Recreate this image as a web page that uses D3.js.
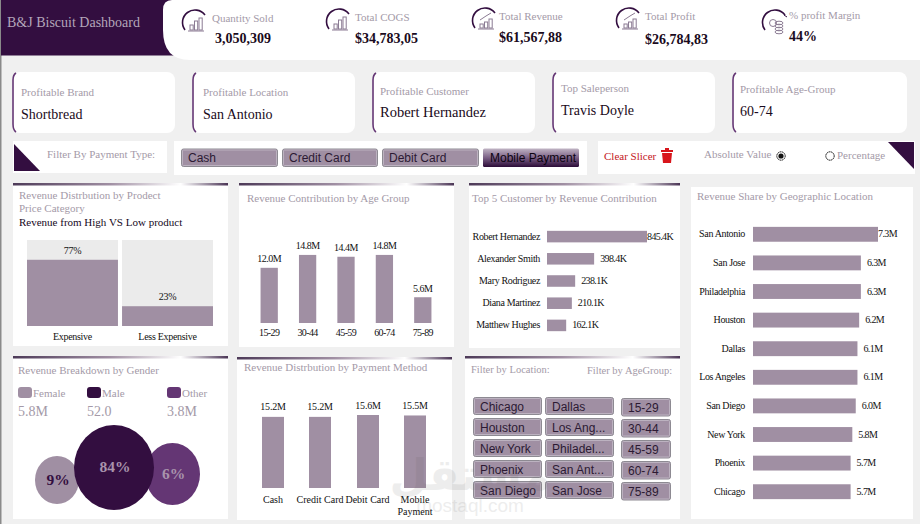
<!DOCTYPE html>
<html>
<head>
<meta charset="utf-8">
<title>B&amp;J Biscuit Dashboard</title>
<script src="https://cdn.jsdelivr.net/npm/d3@7"></script>
<style>
  html, body { margin: 0; padding: 0; background: #f0f0f0; overflow: hidden; }
  svg { display: block; }
  text { font-family: "Liberation Serif", serif; }
  .slicer { font-family: "Liberation Sans", sans-serif; }
</style>
</head>
<body>
<svg id="dash" width="920" height="524"></svg>
<script>
// Dashboard figures
const kpiLabels = ["Quantity Sold", "Total COGS", "Total Revenue", "Total Profit", "% profit Margin"];
const kpiValues = ["3,050,309", "$34,783,05", "$61,567,88", "$26,784,83", "44%"];
const highlightLabels = ["Profitable Brand", "Profitable Location", "Profitable Customer", "Top Saleperson", "Profitable Age-Group"];
const highlightValues = ["Shortbread", "San Antonio", "Robert Hernandez", "Travis Doyle", "60-74"];
const paymentTypes = ["Cash", "Credit Card", "Debit Card", "Mobile Payment"];
const priceCategories = ["Expensive", "Less Expensive"];
const priceShares = [77, 23];
const ageGroups = ["15-29", "30-44", "45-59", "60-74", "75-89"];
const ageRevenue = [12.0, 14.8, 14.4, 14.8, 5.6];
const customers = ["Robert Hernandez", "Alexander Smith", "Mary Rodriguez", "Diana Martinez", "Matthew Hughes"];
const customerRevenue = [845.4, 398.4, 238.1, 210.1, 162.1];
const cities = ["San Antonio", "San Jose", "Philadelphia", "Houston", "Dallas", "Los Angeles", "San Diego", "New York", "Phoenix", "Chicago"];
const cityRevenue = [7.3, 6.3, 6.3, 6.2, 6.1, 6.1, 6.0, 5.8, 5.7, 5.7];
const paymentRevenue = [15.2, 15.2, 15.6, 15.5];
const genders = ["Female", "Male", "Other"];
const genderTotals = ["5.8M", "52.0", "3.8M"];
const genderShares = [9, 84, 6];
const locationSlicer = ["Chicago", "Dallas", "Houston", "Los Ang...", "New York", "Philadel...", "Phoenix", "San Ant...", "San Diego", "San Jose"];

const DARK = "#330e40", MAUVE = "#a08fa3", PURPLE = "#643674", MUTED = "#a49aa8", INK = "#111";
const svg = d3.select("#dash");
const defs = svg.append("defs");
const ordinal = (domain, range) => d3.scaleOrdinal().domain(domain).range(range);

// Thin rule across the top of the panels: dark ends, fading to white near the right
const ruleGrad = defs.append("linearGradient").attr("id", "rule");
[[0, "#4d3a58"], [0.45, "#a08fa3"], [0.78, "#ffffff"], [1, "#4a3455"]].forEach(([o, c]) =>
  ruleGrad.append("stop").attr("offset", o).attr("stop-color", c));
const activeGrad = defs.append("linearGradient").attr("id", "activeBtn").attr("x2", 0).attr("y2", 1);
[[0, "#c0b4c4"], [0.5, "#7a5f85"], [1, "#2c0c38"]].forEach(([o, c]) =>
  activeGrad.append("stop").attr("offset", o).attr("stop-color", c));

function label(g, x, y, str, o = {}) {
  return g.append("text").attr("x", x).attr("y", y).text(str)
    .attr("font-size", o.size || 11)
    .attr("fill", o.fill || INK)
    .attr("text-anchor", o.anchor || "start")
    .attr("font-weight", o.weight || null)
    .attr("letter-spacing", o.ls || null);
}
function panel(x, y, w, h, rule = true) {
  svg.append("rect").attr("x", x).attr("y", y).attr("width", w).attr("height", h).attr("fill", "#fff");
  if (rule) svg.append("rect").attr("x", x).attr("y", y - 1).attr("width", w).attr("height", 2.5).attr("fill", "url(#rule)");
}

// Header band
svg.append("rect").attr("x", 0).attr("y", 0).attr("width", 1.5).attr("height", 524).attr("fill", "#8a8a8a");
svg.append("rect").attr("x", 1).attr("y", 0).attr("width", 190).attr("height", 55.5).attr("fill", DARK);
svg.append("path").attr("fill", "#fff")
  .attr("d", "M172,0H920V60H190Q163,60 163,30V10Q163,0 172,0Z");
label(svg, 7, 27, "B&J Biscuit Dashboard", { size: 14, fill: "#b3a6ba" });

// KPI strip
const kpiIconX = ordinal(kpiLabels, [196, 340, 486, 630, 776]);
const kpiIconY = [24, 23, 22, 22, 24];
const kpiLabelPos = [[212, 22], [355, 21], [499, 20], [645, 20], [789, 19]];
const kpiValuePos = [[215, 43], [355, 43], [499, 42], [645, 44], [789, 41]];
kpiLabels.forEach((k, i) => {
  const g = svg.append("g").attr("transform", `translate(${kpiIconX(k)},${kpiIconY[i]})`);
  // swoosh around each icon
  g.append("path").attr("fill", "none").attr("stroke", DARK).attr("stroke-width", 1.6)
    .attr("d", "M-11,6A12.5,12.5 0 0 1 9,-9");
  const bars = g.append("g").attr("fill", "none").attr("stroke", "#8b7b93").attr("stroke-width", 1);
  if (i === 4) {
    bars.append("circle").attr("cx", -3).attr("cy", -1).attr("r", 3.5);
    [1, 4, 7, 10].forEach(dy => bars.append("ellipse").attr("cx", 3).attr("cy", dy - 2).attr("rx", 4).attr("ry", 1.8));
    bars.append("path").attr("stroke", DARK).attr("d", "M8,-9l3,2");
  } else {
    const heights = i > 1 ? [4, 6, 9] : [5, 9, 12];
    heights.forEach((h, j) => bars.append("rect")
      .attr("x", -6 + j * 4.5).attr("y", 6 - h).attr("width", 3.2).attr("height", h));
    bars.append("path").attr("d", "M-8,7H8");
    if (i > 1) bars.append("path").attr("d", "M-6,-2L0,-6L5,-9");
  }
  label(svg, kpiLabelPos[i][0], kpiLabelPos[i][1], k, { size: 11, fill: MUTED });
  label(svg, kpiValuePos[i][0], kpiValuePos[i][1], kpiValues[i], { size: 14, weight: 700, fill: "#1a0a20" });
});

// Highlight cards
const cardX = [12, 192, 372, 552, 732];
const cardW = [163, 163, 163, 163, 175];
const cardLabelY = [96, 96, 95, 92, 93];
const cardValueY = [119, 119, 117, 115, 116];
highlightLabels.forEach((k, i) => {
  const x = cardX[i];
  const tx = x + 9 + (i === 1 ? 2 : 0) - (i === 2 ? 1 : 0) - (i === 4 ? 1 : 0);
  svg.append("rect").attr("x", x).attr("y", 72).attr("width", cardW[i]).attr("height", 61).attr("rx", 8).attr("fill", "#fff");
  svg.append("path").attr("fill", "none").attr("stroke", PURPLE).attr("stroke-width", 1.6)
    .attr("d", `M${x + 4},73Q${x + 1},75 ${x + 1},80V124Q${x + 1},130 ${x + 4},132`);
  label(svg, tx, cardLabelY[i], k, { size: 11, fill: MUTED });
  label(svg, tx, cardValueY[i], highlightValues[i], { size: i === 2 ? 14.5 : 14, fill: "#1a0a20" });
});

// Slicer buttons share one look; the selected one is dark with no frame
function slicerButton(x, y, w, h, str, active = false, size = 12) {
  if (active) {
    svg.append("rect").attr("x", x).attr("y", y).attr("width", w).attr("height", h).attr("rx", 1.5).attr("fill", "url(#activeBtn)");
  } else {
    svg.append("rect").attr("x", x + 0.5).attr("y", y + 0.5).attr("width", w - 1).attr("height", h - 1).attr("rx", 2)
      .attr("fill", MAUVE).attr("stroke", "#8d8a92").attr("stroke-width", 1);
    svg.append("rect").attr("x", x + 1.5).attr("y", y + 1.5).attr("width", w - 3).attr("height", h - 3).attr("rx", 1)
      .attr("fill", "none").attr("stroke", "#bcb2c0").attr("stroke-width", 1);
  }
  svg.append("text").attr("class", "slicer").attr("x", x + 7).attr("y", y + h / 2 + 4.5).text(str)
    .attr("font-size", size).attr("fill", active ? "#0c0410" : "#2c1a33");
}

// Filter row
panel(13, 141, 154, 32, false);
svg.append("path").attr("fill", DARK).attr("d", "M14,144L40,171H14Z");
label(svg, 47, 158, "Filter By Payment Type:", { size: 11, fill: MUTED });
panel(174, 141, 413, 34, false);
const payBtnX = ordinal(paymentTypes, [181, 282, 382, 483]);
const payBtnW = [97, 96, 97, 96];
paymentTypes.forEach((p, i) => slicerButton(payBtnX(p), 148.5, payBtnW[i], 18.5, p, i === 3));

panel(598, 141, 317, 33, false);
label(svg, 604, 160, "Clear Slicer", { size: 11, fill: "#c4161c" });
const trash = svg.append("g").attr("transform", "translate(667,156)").attr("fill", "#d8151b");
trash.append("path").attr("d", "M-5,-3H5L4,7H-4Z");
trash.append("rect").attr("x", -6).attr("y", -6).attr("width", 12).attr("height", 2);
trash.append("rect").attr("x", -2).attr("y", -8).attr("width", 4).attr("height", 2);
label(svg, 704, 158, "Absolute Value", { size: 11, fill: MUTED });
svg.append("circle").attr("cx", 781).attr("cy", 156).attr("r", 4.2).attr("fill", "#fff").attr("stroke", "#111").attr("stroke-dasharray", "1.5 0.5");
svg.append("circle").attr("cx", 781).attr("cy", 156).attr("r", 2.6).attr("fill", "#111");
svg.append("circle").attr("cx", 830).attr("cy", 156).attr("r", 4.2).attr("fill", "#fff").attr("stroke", "#111").attr("stroke-dasharray", "1.5 0.5");
label(svg, 837, 159, "Percentage", { size: 11, fill: MUTED });
svg.append("path").attr("fill", DARK).attr("d", "M888,142H914V169Z");

// Revenue by price category
panel(13, 184, 215, 162);
label(svg, 19, 199, "Revenue Distrbution by Prodect", { size: 11, fill: MUTED });
label(svg, 19, 212, "Price Category", { size: 11, fill: MUTED });
label(svg, 19, 226, "Revenue from High VS Low product", { size: 11, fill: "#16081c" });
const priceX = d3.scaleBand().domain(priceCategories).range([27, 213]).paddingInner(0.043).paddingOuter(0);
const priceY = d3.scaleLinear().domain([0, 100]).range([326, 240]);
priceCategories.forEach((c, i) => {
  svg.append("rect").attr("x", priceX(c)).attr("y", priceY(100)).attr("width", priceX.bandwidth()).attr("height", priceY(0) - priceY(100)).attr("fill", "#ebebeb");
  svg.append("rect").attr("x", priceX(c)).attr("y", priceY(priceShares[i])).attr("width", priceX.bandwidth()).attr("height", priceY(0) - priceY(priceShares[i])).attr("fill", MAUVE);
  label(svg, priceX(c) + priceX.bandwidth() / 2, priceY(priceShares[i]) - 6, priceShares[i] + "%", { size: 10, anchor: "middle", ls: -0.3 });
  label(svg, priceX(c) + priceX.bandwidth() / 2, 340, c, { size: 10, anchor: "middle", ls: -0.3 });
});

// Revenue by age group
panel(239, 184, 215, 163);
label(svg, 247, 202, "Revenue Contribution by Age Group", { size: 11, fill: MUTED });
const ageX = d3.scaleBand().domain(ageGroups).range([250, 442]).paddingInner(0.55).paddingOuter(0.275);
const ageY = d3.scaleLinear().domain([0, 15]).range([323, 254]);
svg.append("g").selectAll("rect").data(ageGroups).join("rect")
  .attr("x", d => ageX(d)).attr("width", ageX.bandwidth())
  .attr("y", (d, i) => ageY(ageRevenue[i])).attr("height", (d, i) => ageY(0) - ageY(ageRevenue[i]))
  .attr("fill", MAUVE);
ageGroups.forEach((a, i) => {
  const cx = ageX(a) + ageX.bandwidth() / 2;
  label(svg, cx, ageY(ageRevenue[i]) - 5.5, d3.format(".1f")(ageRevenue[i]) + "M", { size: 10, anchor: "middle", ls: -0.5 });
  label(svg, cx, 336, a, { size: 10, anchor: "middle", ls: -0.6 });
});

// Top customers
panel(469, 184, 211, 164);
label(svg, 472, 202, "Top 5 Customer by Revenue Contribution", { size: 11, fill: MUTED });
const custY = d3.scaleBand().domain(customers).range([225.5, 336.5]).paddingInner(0.48).paddingOuter(0.24);
const custX = d3.scaleLinear().domain([0, 845.4]).range([547, 647]);
customers.forEach((c, i) => {
  const y = custY(c), mid = y + custY.bandwidth() / 2;
  svg.append("rect").attr("x", custX(0)).attr("y", y).attr("width", custX(customerRevenue[i]) - custX(0)).attr("height", custY.bandwidth()).attr("fill", MAUVE);
  label(svg, 540, mid + 3, c, { size: 10, anchor: "end", ls: -0.35 });
  label(svg, custX(customerRevenue[i]) + (i === 0 ? 0 : 6), mid + 3, d3.format(".1f")(customerRevenue[i]) + "K", { size: 10, ls: -0.6 });
});

// Revenue by city
panel(691, 187, 222, 332, false);
label(svg, 697, 200, "Revenue Share by Geographic Location", { size: 11, fill: MUTED });
const cityY = d3.scaleBand().domain(cities).range([220, 506]).paddingInner(0.48).paddingOuter(0.24);
const cityX = d3.scaleLinear().domain([0, 7.3]).range([753, 878]);
cities.forEach((c, i) => {
  const y = cityY(c), mid = y + cityY.bandwidth() / 2;
  svg.append("rect").attr("x", cityX(0)).attr("y", y).attr("width", cityX(cityRevenue[i]) - cityX(0)).attr("height", cityY.bandwidth()).attr("fill", MAUVE);
  label(svg, 745, mid + 3, c, { size: 10, anchor: "end", ls: -0.35 });
  label(svg, cityX(cityRevenue[i]) + (i === 0 ? 0 : 6), mid + 3, d3.format(".1f")(cityRevenue[i]) + "M", { size: 10, ls: -0.6 });
});

// Gender bubbles
panel(13, 357, 215, 162);
label(svg, 18, 374, "Revenue Breakdown by Gender", { size: 11, fill: MUTED });
const genderFill = ordinal(genders, [MAUVE, DARK, PURPLE]);
const legendX = ordinal(genders, [18, 87, 167]);
genders.forEach((g, i) => {
  const x = legendX(g);
  svg.append("rect").attr("x", x).attr("y", 387).attr("width", 14).attr("height", 11).attr("rx", 3).attr("fill", genderFill(g));
  label(svg, x + 15, 397, g, { size: 11, fill: MUTED });
  label(svg, x, 416, genderTotals[i], { size: 14, fill: MUTED });
});
const bubbleX = ordinal(genders, [57, 114, 172.5]);
const bubbleY = ordinal(genders, [480, 467.5, 474]);
const bubbleRx = ordinal(genders, [22, 40, 27.5]);
const bubbleRy = ordinal(genders, [24, 42.5, 31]);
["Other", "Female", "Male"].forEach(g => {
  svg.append("ellipse").attr("cx", bubbleX(g)).attr("cy", bubbleY(g)).attr("rx", bubbleRx(g)).attr("ry", bubbleRy(g)).attr("fill", genderFill(g));
});
genders.forEach((g, i) => {
  label(svg, bubbleX(g) + 1, bubbleY(g) + 4.5, genderShares[i] + "%", { size: 15.5, weight: 700, anchor: "middle", fill: g === "Female" ? DARK : "#a893ac" });
});

// Revenue by payment method
panel(237, 358, 215, 162);
label(svg, 244, 371, "Revenue Distrbution by Payment Method", { size: 11, fill: MUTED });
const payX = ordinal(paymentTypes, [262, 309, 357, 404]);
const payY = d3.scaleLinear().domain([0, 15.6]).range([488, 415]);
paymentTypes.forEach((p, i) => {
  const x = payX(p);
  svg.append("rect").attr("x", x).attr("y", payY(paymentRevenue[i])).attr("width", 22).attr("height", payY(0) - payY(paymentRevenue[i])).attr("fill", MAUVE);
  label(svg, x + 11, payY(paymentRevenue[i]) - 6.5, d3.format(".1f")(paymentRevenue[i]) + "M", { size: 10, anchor: "middle", ls: -0.2 });
});
label(svg, 273, 503, "Cash", { size: 10, anchor: "middle" });
label(svg, 320, 503, "Credit  Card", { size: 10, anchor: "middle" });
label(svg, 367.5, 503, "Debit  Card", { size: 10, anchor: "middle" });
label(svg, 415, 503, "Mobile", { size: 10, anchor: "middle" });
label(svg, 415, 515, "Payment", { size: 10, anchor: "middle" });

// Location and age slicers
panel(465, 357, 215, 162);
label(svg, 471, 373, "Filter by Location:", { size: 10.5, fill: MUTED });
label(svg, 587, 374, "Filter by AgeGroup:", { size: 10.5, fill: MUTED });
locationSlicer.forEach((c, i) => {
  slicerButton(473 + (i % 2) * 72, 397 + Math.floor(i / 2) * 21, 69, 18, c);
});
ageGroups.forEach((a, i) => slicerButton(621, 398 + i * 21, 50, 18.5, a));

// Site mark over the lower panels
const mark = svg.append("g").attr("opacity", 0.1).attr("fill", "#555");
mark.append("text").attr("x", 470).attr("y", 490).attr("text-anchor", "middle").attr("font-size", 44).attr("font-weight", 700)
  .style("font-family", "'DejaVu Sans', sans-serif").text("مستقل");
mark.append("text").attr("x", 470).attr("y", 512).attr("text-anchor", "middle").attr("font-size", 19)
  .style("font-family", "'Liberation Sans', sans-serif").text("mostaql.com");
</script>
</body>
</html>
